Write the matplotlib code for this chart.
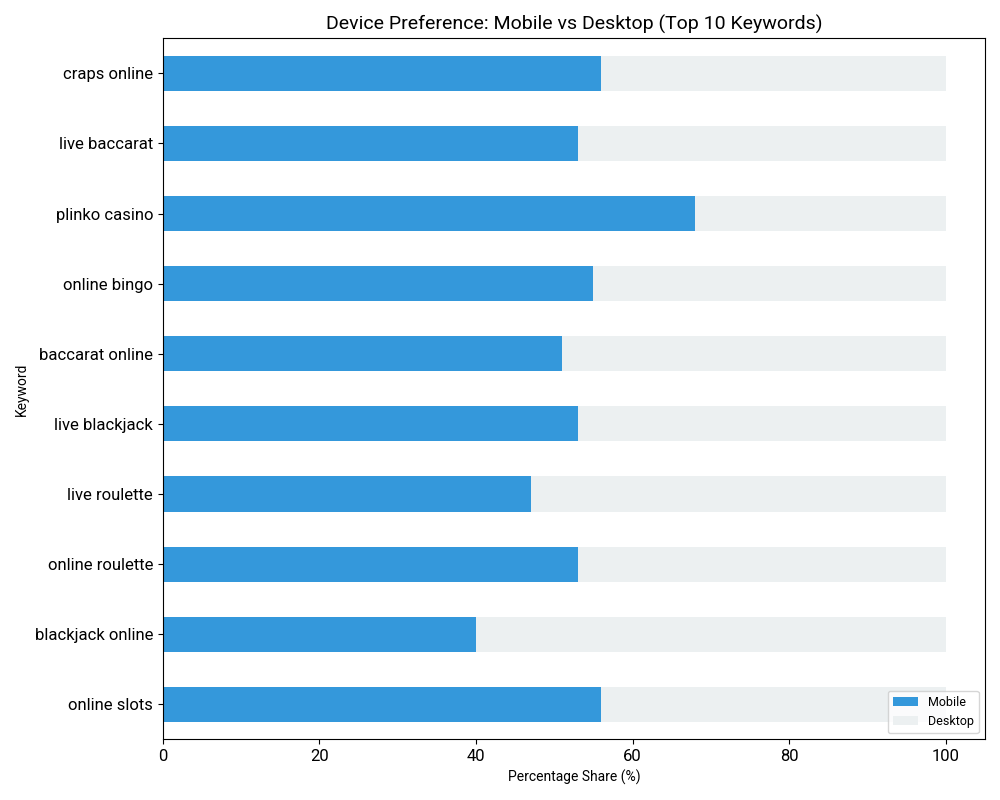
import matplotlib
matplotlib.use('Agg')
import matplotlib.pyplot as plt
import pandas as pd

plt.rcParams['font.family'] = ['Roboto', 'DejaVu Sans']

keywords = ['online slots', 'blackjack online', 'online roulette', 'live roulette',
            'live blackjack', 'baccarat online', 'online bingo', 'plinko casino',
            'live baccarat', 'craps online']
mobile = [56, 40, 53, 47, 53, 51, 55, 68, 53, 56]
desktop = [100 - m for m in mobile]

df = pd.DataFrame({'Mobile': mobile, 'Desktop': desktop}, index=keywords)

fig, ax = plt.subplots(figsize=(10, 8), dpi=100)
df.plot(kind='barh', stacked=True, ax=ax, color=['#3498db', '#ecf0f1'])

ax.set_title('Device Preference: Mobile vs Desktop (Top 10 Keywords)', fontsize=14)
ax.set_xlabel('Percentage Share (%)', fontsize=10)
ax.set_ylabel('Keyword', fontsize=10)
ax.tick_params(axis='both', labelsize=12)
ax.legend(loc='lower right', fontsize=9)

plt.tight_layout()
fig.savefig('out.png', dpi=100)
